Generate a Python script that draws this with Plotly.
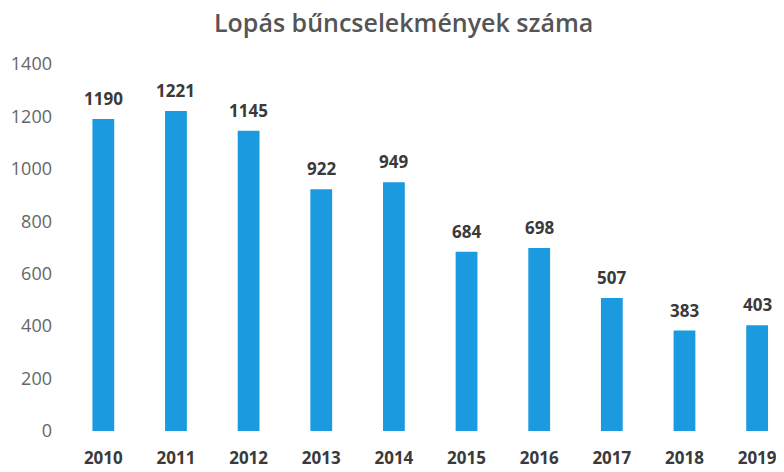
import plotly.graph_objects as go

years = ["2010", "2011", "2012", "2013", "2014", "2015", "2016", "2017", "2018", "2019"]
counts = [1190, 1221, 1145, 922, 949, 684, 698, 507, 383, 403]

fig = go.Figure(go.Bar(
    x=years,
    y=counts,
    width=0.3,
    marker=dict(color="#1b9ae0", line=dict(width=0)),
))

# value labels above the bars
for i, val in enumerate(counts):
    fig.add_annotation(
        x=i, y=val, text="<b>%d</b>" % val,
        showarrow=False, yanchor="bottom", yshift=7,
        font=dict(family="Open Sans", size=17, color="#3a3a3a"),
    )

# chart title as a paper annotation
fig.add_annotation(
    text="Lopás bűncselekmények száma",
    xref="paper", yref="paper", x=0.47, y=1.0, yshift=42,
    xanchor="center", yanchor="middle", showarrow=False,
    font=dict(family="Open Sans", size=25, color="#555555", weight=600),
)

fig.update_layout(
    width=776, height=464,
    margin=dict(l=59, r=0, t=56, b=41),
    plot_bgcolor="white",
    paper_bgcolor="white",
    showlegend=False,
)

fig.update_xaxes(
    type="category",
    range=[-0.5, 9.37],
    showline=False, showgrid=False, ticks="",
    tickfont=dict(family="Open Sans", size=17, color="#3a3a3a", weight="bold"),
    ticklabelstandoff=15,
)
fig.update_yaxes(
    range=[0, 1400], dtick=200,
    showline=False, showgrid=False, zeroline=False, ticks="",
    tickfont=dict(family="Open Sans", size=18, color="#666666"),
    ticklabelstandoff=14,
)

fig.write_html("out.html")
